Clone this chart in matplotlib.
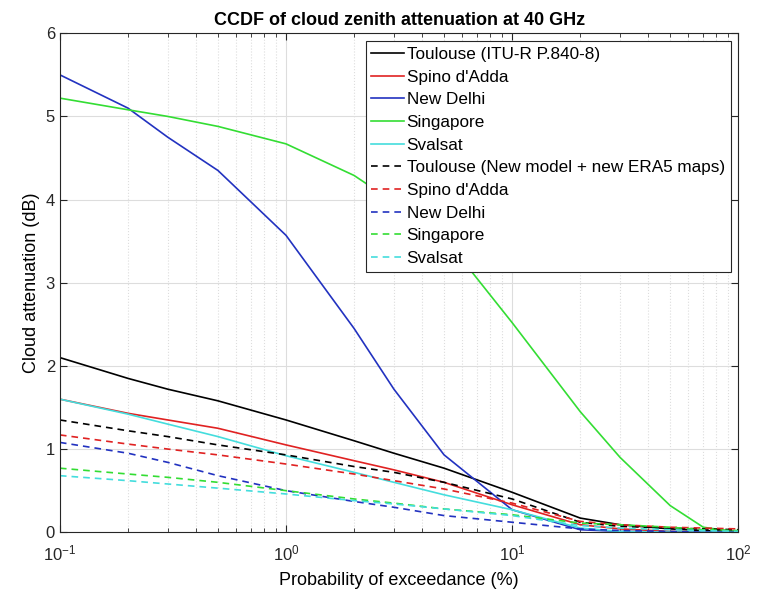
import numpy as np
import matplotlib
matplotlib.use('Agg')
import matplotlib.pyplot as plt
from matplotlib.ticker import LogLocator, NullFormatter

plt.rcParams['font.family'] = ['Liberation Sans', 'DejaVu Sans']

# probability of exceedance (%)
prob = [0.1, 0.2, 0.3, 0.5, 1, 2, 3, 5, 10, 20, 30, 50, 70, 100]

# ITU-R P.840-8 (solid)
toulouse_itu = [2.1, 1.85, 1.72, 1.58, 1.35, 1.1, 0.95, 0.77, 0.48, 0.17, 0.09, 0.04, 0.02, 0.01]
spino_itu = [1.6, 1.43, 1.35, 1.25, 1.05, 0.86, 0.75, 0.6, 0.33, 0.09, 0.04, 0.01, 0.0, 0.0]
delhi_itu = [5.5, 5.1, 4.75, 4.35, 3.57, 2.45, 1.72, 0.93, 0.27, 0.03, 0.01, 0.0, 0.0, 0.0]
singapore_itu = [5.22, 5.08, 5.0, 4.88, 4.67, 4.29, 3.97, 3.55, 2.52, 1.45, 0.9, 0.32, 0.06, 0.0]
svalsat_itu = [1.6, 1.42, 1.3, 1.15, 0.92, 0.72, 0.6, 0.45, 0.27, 0.05, 0.01, 0.0, 0.0, 0.0]

# new model + new ERA5 maps (dashed)
toulouse_new = [1.35, 1.22, 1.15, 1.05, 0.93, 0.79, 0.72, 0.6, 0.4, 0.12, 0.07, 0.05, 0.04, 0.03]
spino_new = [1.17, 1.06, 1.0, 0.93, 0.82, 0.7, 0.62, 0.52, 0.35, 0.13, 0.09, 0.06, 0.05, 0.04]
delhi_new = [1.08, 0.95, 0.84, 0.68, 0.5, 0.37, 0.3, 0.2, 0.12, 0.04, 0.02, 0.01, 0.0, 0.0]
singapore_new = [0.77, 0.7, 0.66, 0.6, 0.5, 0.4, 0.35, 0.28, 0.21, 0.11, 0.09, 0.06, 0.03, 0.02]
svalsat_new = [0.68, 0.62, 0.58, 0.53, 0.46, 0.38, 0.34, 0.28, 0.2, 0.08, 0.05, 0.03, 0.02, 0.01]

names = ["Spino d'Adda", 'New Delhi', 'Singapore', 'Svalsat']
cols = ['k', '#e02222', '#2232c0', '#33dd33', '#44dddd']

fig = plt.figure(figsize=(7.58, 5.94), dpi=100)
ax = fig.add_axes([0.079, 0.104, 0.895, 0.840])

solid = [toulouse_itu, spino_itu, delhi_itu, singapore_itu, svalsat_itu]
dashed = [toulouse_new, spino_new, delhi_new, singapore_new, svalsat_new]
lab_solid = ['Toulouse (ITU-R P.840-8)'] + names
lab_dash = ['Toulouse (New model + new ERA5 maps)'] + names

for s, c, l in zip(solid, cols, lab_solid):
    ax.plot(prob, s, '-', color=c, lw=1.2, label=l)
for s, c, l in zip(dashed, cols, lab_dash):
    ax.plot(prob, s, '--', color=c, lw=1.2, label=l, dashes=(4, 3))

ax.set_xscale('log')
ax.set_xlim(0.1, 100)
ax.set_ylim(0, 6)
ax.xaxis.set_minor_locator(LogLocator(base=10, subs=np.arange(2, 10)))
ax.xaxis.set_minor_formatter(NullFormatter())

ax.grid(True, which='major', color='#dddddd', lw=0.8, ls='-')
ax.grid(True, which='minor', axis='x', color='#dddddd', lw=0.8, ls=':')
ax.tick_params(which='both', direction='in', top=True, right=True, labelsize=12, colors='#262626')
ax.tick_params(axis='x', which='major', pad=8)
ax.tick_params(which='major', length=5)
ax.tick_params(which='minor', length=3)
for sp in ax.spines.values():
    sp.set_color('#262626')
    sp.set_linewidth(0.8)

ax.set_xlabel('Probability of exceedance (%)', fontsize=13, labelpad=6)
ax.set_ylabel('Cloud attenuation (dB)', fontsize=13)
ax.set_title('CCDF of cloud zenith attenuation at 40 GHz', fontsize=13, fontweight='bold')

leg = ax.legend(loc='upper right', fontsize=12.3, handlelength=1.9, handletextpad=0.15,
                labelspacing=0.45, borderaxespad=0.45, fancybox=False, framealpha=1,
                edgecolor='#262626', borderpad=0.35)
leg.get_frame().set_linewidth(0.8)

plt.savefig('out.png', dpi=100)
plt.close()
